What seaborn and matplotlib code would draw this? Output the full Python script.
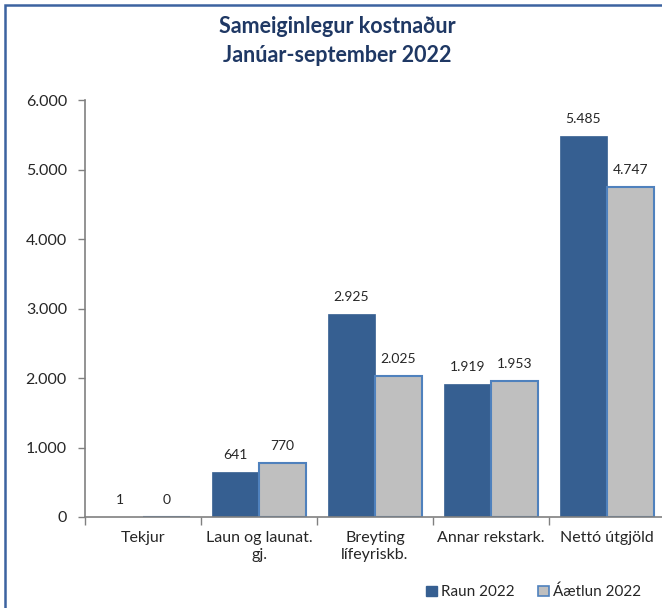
import matplotlib
matplotlib.use("Agg")
import matplotlib.pyplot as plt
import matplotlib.patches as mpatches
import seaborn as sns
import pandas as pd

categories = ["Tekjur", "Laun og launat.\ngj.", "Breyting\nlífeyriskb.", "Annar rekstark.", "Nettó útgjöld"]
raun_2022 = [1, 641, 2925, 1919, 5485]
aaetlun_2022 = [0, 770, 2025, 1953, 4747]
series_names = ["Raun 2022", "Áætlun 2022"]
yticks = [0, 1000, 2000, 3000, 4000, 5000, 6000]
title = "Sameiginlegur kostnaður\nJanúar-september 2022"

DARK = "#365F91"
LIGHT = "#BFBFBF"
EDGE = "#4F81BD"
NAVY = "#1F3864"

sns.set_theme(style="white")
plt.rcParams['font.family'] = ['Lato', 'DejaVu Sans']

df = pd.DataFrame({
    "cat": categories * 2,
    "val": raun_2022 + aaetlun_2022,
    "series": [series_names[0]] * len(categories) + [series_names[1]] * len(categories),
})

fig = plt.figure(figsize=(6.62, 6.08), dpi=100)
ax = fig.add_axes([85 / 662, 91 / 608, 580 / 662, 417 / 608])

sns.barplot(data=df, x="cat", y="val", hue="series", order=categories,
            hue_order=series_names, palette=[DARK, LIGHT], width=0.81,
            gap=0, ax=ax, legend=False, saturation=1)

containers = ax.containers
for bar in containers[0]:
    bar.set_edgecolor(DARK)
    bar.set_linewidth(0.5)
for bar in containers[1]:
    bar.set_edgecolor(EDGE)
    bar.set_linewidth(1.5)

def fmt(v):
    return f"{v:,}".replace(",", ".")

for cont, vals in zip(containers, [raun_2022, aaetlun_2022]):
    for bar, v in zip(cont, vals):
        ax.annotate(fmt(v), (bar.get_x() + bar.get_width() / 2, bar.get_height()),
                    xytext=(0, 8), textcoords="offset points",
                    ha="center", va="bottom", fontsize=10, color="#262626")

ax.set_ylim(0, 6000)
ax.set_xlim(-0.5, len(categories) - 0.5)
ax.set_yticks(yticks)
ax.set_yticklabels([fmt(t) for t in yticks], fontsize=11.5, color="#262626")
ax.tick_params(axis="y", which="major", left=True, length=5, width=1, color="#808080", pad=8)

# x ticks: boundaries as major ticks, labels at minor ticks
ax.set_xticks([i - 0.5 for i in range(len(categories) + 1)])
ax.set_xticklabels([""] * (len(categories) + 1))
ax.tick_params(axis="x", which="major", bottom=True, length=6, width=1, color="#808080")
ax.set_xticks(range(len(categories)), minor=True)
ax.set_xticklabels(categories, minor=True, fontsize=11.5, color="#262626", linespacing=1.25)
ax.tick_params(axis="x", which="minor", bottom=False, length=0, pad=10)
for lab in ax.get_xticklabels(minor=True):
    lab.set_va("top")

ax.set_xlabel("")
ax.set_ylabel("")
for s in ["top", "right"]:
    ax.spines[s].set_visible(False)
for s in ["left", "bottom"]:
    ax.spines[s].set_color("#808080")
    ax.spines[s].set_linewidth(1.2)

fig.text(337 / 662, 1 - 41 / 608, title, ha="center", va="center", fontsize=15.5,
         fontweight="bold", color=NAVY, linespacing=1.5)

handles = [mpatches.Patch(facecolor=DARK, edgecolor=DARK),
           mpatches.Patch(facecolor=LIGHT, edgecolor=EDGE, linewidth=1.2)]
fig.legend(handles, series_names, loc="center right", bbox_to_anchor=(655 / 662, 1 - 592 / 608),
           ncol=2, frameon=False, fontsize=11, handlelength=0.7, handleheight=0.7,
           handletextpad=0.3, columnspacing=1.5, labelcolor="#262626")

# figure border (only left and top visible in reference)
fig.add_artist(mpatches.Rectangle((5 / 662, -0.05), 1.1, 1 - 5 / 608 + 0.05,
                                  transform=fig.transFigure, fill=False,
                                  edgecolor="#3C63A0", linewidth=1.8))

fig.savefig("out.png", dpi=100)
